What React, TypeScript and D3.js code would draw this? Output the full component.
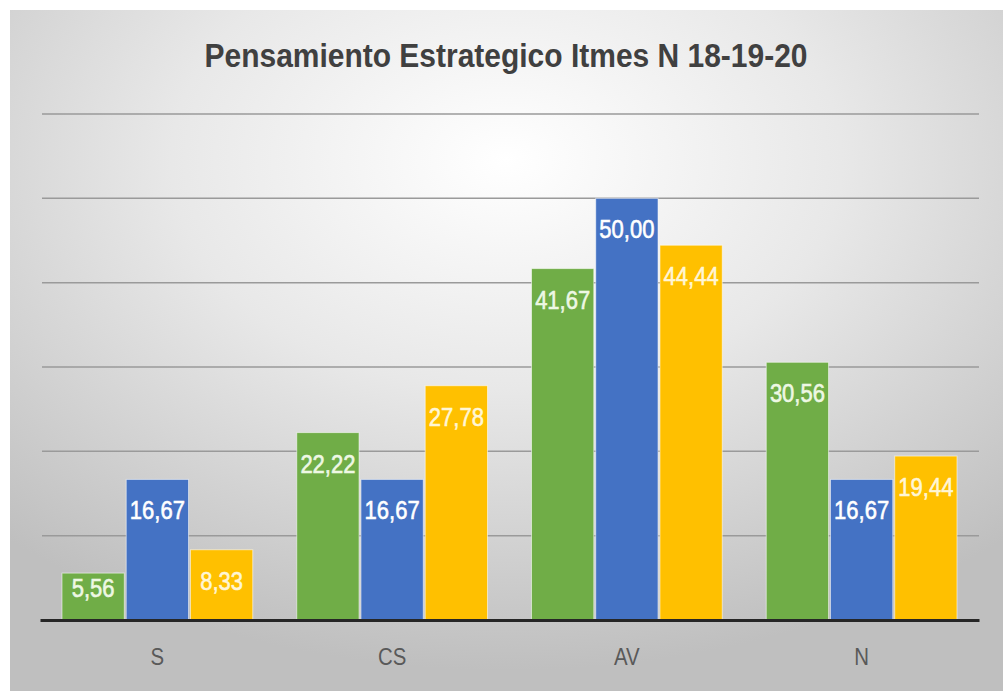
import React, { useEffect, useRef } from 'react';
import * as d3 from 'd3';

const categories = ['S', 'CS', 'AV', 'N'];
const seriesNames = ['18', '19', '20'];
const values18 = [5.56, 22.22, 41.67, 30.56];
const values19 = [16.67, 16.67, 50.0, 16.67];
const values20 = [8.33, 27.78, 44.44, 19.44];
const yTicks = [10, 20, 30, 40, 50, 60];
const title = 'Pensamiento Estrategico Itmes  N 18-19-20';

const barColors = ['#70ad47', '#4472c4', '#ffc000'];
const labelColors = ['#eef8e4', '#ffffff', '#fff6d6'];

const width = 1003;
const height = 691;

export default function App() {
  const ref = useRef<SVGSVGElement>(null);

  useEffect(() => {
    const svg = d3.select(ref.current);
    svg.selectAll('*').remove();

    const series = [values18, values19, values20];
    const rows = categories.map((c, i) => ({
      cat: c,
      vals: series.map((s, k) => ({ key: seriesNames[k], k, v: s[i] })),
    }));

    const defs = svg.append('defs');
    const grad = defs.append('radialGradient')
      .attr('id', 'bg')
      .attr('cx', '50%')
      .attr('cy', '22%')
      .attr('r', '75%');
    grad.append('stop').attr('offset', '0%').attr('stop-color', '#ffffff');
    grad.append('stop').attr('offset', '45%').attr('stop-color', '#e8e8e8');
    grad.append('stop').attr('offset', '100%').attr('stop-color', '#bfbfbf');

    svg.append('rect')
      .attr('x', 0).attr('y', 0)
      .attr('width', width).attr('height', height)
      .attr('fill', '#ffffff');

    svg.append('rect')
      .attr('x', 10).attr('y', 10)
      .attr('width', width - 10).attr('height', height - 10)
      .attr('fill', 'url(#bg)');

    const left = 40;
    const right = 979;
    const x0 = d3.scaleBand<string>()
      .domain(categories)
      .range([left, right]);

    const x1 = d3.scaleBand<string>()
      .domain(seriesNames)
      .range([22, x0.bandwidth() - 22])
      .paddingInner(0.03);

    const y = d3.scaleLinear()
      .domain([0, 60])
      .range([620, 114]);

    // gridlines
    svg.append('g')
      .attr('class', 'grid')
      .selectAll('line')
      .data(yTicks)
      .enter()
      .append('line')
      .attr('x1', left + 2)
      .attr('x2', right)
      .attr('y1', (d) => y(d))
      .attr('y2', (d) => y(d))
      .attr('stroke', '#9a9a9a')
      .attr('stroke-width', 1.5);

    const groups = svg.selectAll('.cat')
      .data(rows)
      .enter()
      .append('g')
      .attr('class', 'cat')
      .attr('transform', (d) => `translate(${x0(d.cat)}, 0)`);

    groups.selectAll('rect')
      .data((d) => d.vals)
      .enter()
      .append('rect')
      .attr('x', (d) => x1(d.key)!)
      .attr('y', (d) => y(d.v))
      .attr('width', x1.bandwidth())
      .attr('height', (d) => y(0) - y(d.v))
      .attr('fill', (d) => barColors[d.k])
      .attr('stroke', '#ffffff')
      .attr('stroke-opacity', 0.55)
      .attr('stroke-width', 1);

    groups.selectAll('.lbl')
      .data((d) => d.vals)
      .enter()
      .append('text')
      .attr('class', 'lbl')
      .attr('transform', (d) => {
        const cx = x1(d.key)! + x1.bandwidth() / 2;
        const by = Math.min(y(d.v) + 40, y(0) - 23);
        return `translate(${cx}, ${by}) scale(0.88, 1)`;
      })
      .attr('text-anchor', 'middle')
      .attr('font-family', 'Liberation Sans, Arial, sans-serif')
      .attr('font-size', 25)
      .attr('fill', (d) => labelColors[d.k])
      .attr('stroke', (d) => labelColors[d.k])
      .attr('stroke-width', 0.6)
      .text((d) => d.v.toFixed(2).replace('.', ','));

    // x axis
    const axis = svg.append('g')
      .attr('transform', `translate(0, ${y(0)})`)
      .call(d3.axisBottom(x0).tickSize(0).tickSizeOuter(0).tickPadding(0));
    axis.select('.domain')
      .attr('stroke', '#262626')
      .attr('stroke-width', 3);
    axis.selectAll('.tick text')
      .attr('font-family', 'Liberation Sans, Arial, sans-serif')
      .attr('font-size', 24)
      .attr('fill', '#595959')
      .attr('dy', 0)
      .attr('y', 45)
      .attr('x', 0)
      .attr('transform', 'scale(0.85, 1)');

    svg.append('text')
      .attr('x', 506)
      .attr('y', 67)
      .attr('text-anchor', 'middle')
      .attr('font-family', 'Liberation Sans, Arial, sans-serif')
      .attr('font-weight', 'bold')
      .attr('font-size', 34)
      .attr('fill', '#404040')
      .attr('textLength', 603)
      .attr('lengthAdjust', 'spacingAndGlyphs')
      .text(title);
  }, []);

  return (
    <svg
      ref={ref}
      width={width}
      height={height}
      style={{ position: 'absolute', left: 0, top: 0, display: 'block' }}
    />
  );
}
